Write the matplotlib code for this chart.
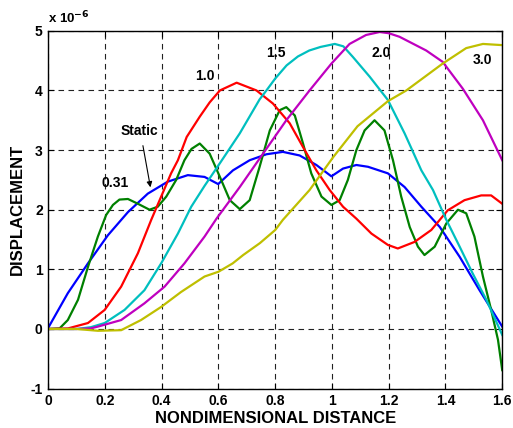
import matplotlib
matplotlib.use("Agg")
import matplotlib.pyplot as plt

plt.rcParams["font.family"] = ["Liberation Sans", "DejaVu Sans"]
plt.rcParams["font.weight"] = "bold"
plt.rcParams["axes.unicode_minus"] = False

# ── data (displacement in units of 1e-6) ─────────────────────────────────────

static_x = [0, 0.069, 0.14, 0.21, 0.281, 0.351, 0.421, 0.492, 0.551, 0.599,
            0.651, 0.71, 0.769, 0.827, 0.886, 0.945, 0.998, 1.039, 1.086, 1.127,
            1.197, 1.256, 1.315, 1.38, 1.45, 1.52, 1.6]
static_y = [0.02, 0.6, 1.1, 1.57, 1.96, 2.27, 2.47, 2.58, 2.55, 2.43,
            2.66, 2.83, 2.93, 2.97, 2.91, 2.75, 2.56, 2.69, 2.75, 2.72,
            2.61, 2.38, 2.05, 1.71, 1.21, 0.65, 0.04]

f031_x = [0, 0.04, 0.069, 0.105, 0.14, 0.175, 0.204, 0.228, 0.251, 0.281, 0.316,
          0.357, 0.386, 0.416, 0.451, 0.48, 0.505, 0.534, 0.569, 0.605, 0.64,
          0.675, 0.71, 0.745, 0.781, 0.816, 0.839, 0.869, 0.898, 0.927, 0.963,
          0.998, 1.027, 1.056, 1.086, 1.115, 1.15, 1.185, 1.215, 1.244, 1.274,
          1.303, 1.326, 1.362, 1.403, 1.444, 1.473, 1.502, 1.532, 1.561, 1.585, 1.6]
f031_y = [0, 0.01, 0.15, 0.49, 1.04, 1.55, 1.91, 2.08, 2.17, 2.18, 2.1,
          2.0, 2.05, 2.22, 2.5, 2.83, 3.02, 3.11, 2.94, 2.55, 2.16,
          2.01, 2.16, 2.72, 3.33, 3.67, 3.72, 3.58, 3.11, 2.61, 2.22,
          2.08, 2.16, 2.5, 3.0, 3.33, 3.5, 3.33, 2.83, 2.22, 1.71,
          1.38, 1.24, 1.38, 1.77, 2.0, 1.94, 1.55, 0.88, 0.32, -0.18, -0.69]

f10_x = [0, 0.07, 0.14, 0.199, 0.257, 0.316, 0.363, 0.398, 0.433, 0.457, 0.488,
         0.534, 0.569, 0.605, 0.664, 0.734, 0.792, 0.851, 0.898, 0.945, 0.992,
         1.039, 1.086, 1.139, 1.197, 1.232, 1.291, 1.35, 1.408, 1.467, 1.526,
         1.561, 1.6]
f10_y = [0, 0.01, 0.1, 0.32, 0.71, 1.27, 1.83, 2.22, 2.61, 2.83, 3.22,
         3.56, 3.8, 4.0, 4.13, 4.0, 3.78, 3.45, 3.05, 2.66, 2.33,
         2.05, 1.85, 1.6, 1.41, 1.35, 1.46, 1.66, 1.99, 2.16, 2.24,
         2.24, 2.1]

f15_x = [0, 0.1, 0.15, 0.199, 0.269, 0.339, 0.398, 0.457, 0.504, 0.551, 0.605,
         0.675, 0.745, 0.769, 0.8, 0.84, 0.88, 0.92, 0.96, 1.01, 1.04, 1.074,
         1.133, 1.197, 1.256, 1.315, 1.356, 1.403, 1.45, 1.496, 1.544, 1.6]
f15_y = [0, 0, 0.03, 0.1, 0.32, 0.65, 1.1, 1.6, 2.05, 2.4, 2.78,
         3.28, 3.85, 4.0, 4.2, 4.42, 4.57, 4.67, 4.73, 4.78, 4.74, 4.56,
         4.23, 3.84, 3.28, 2.66, 2.33, 1.83, 1.38, 0.93, 0.49, -0.1]

f20_x = [0, 0.1, 0.15, 0.175, 0.257, 0.339, 0.41, 0.48, 0.551, 0.593, 0.675,
         0.757, 0.839, 0.921, 0.998, 1.062, 1.12, 1.168, 1.2, 1.238, 1.332,
         1.39, 1.461, 1.532, 1.6]
f20_y = [0, 0, 0.01, 0.04, 0.15, 0.43, 0.71, 1.1, 1.55, 1.85, 2.38,
         2.94, 3.5, 4.0, 4.45, 4.78, 4.93, 4.98, 4.96, 4.9, 4.67,
         4.48, 4.03, 3.5, 2.83]

f30_x = [0, 0.1, 0.175, 0.257, 0.327, 0.398, 0.468, 0.551, 0.6, 0.65, 0.687,
         0.746, 0.8, 0.827, 0.921, 1.004, 1.09, 1.197, 1.262, 1.39, 1.473,
         1.532, 1.6]
f30_y = [0, 0, -0.03, -0.02, 0.15, 0.37, 0.62, 0.88, 0.96, 1.1, 1.24,
         1.44, 1.66, 1.83, 2.33, 2.88, 3.4, 3.82, 4.0, 4.45, 4.71,
         4.78, 4.76]

x_ticks = [0, 0.2, 0.4, 0.6, 0.8, 1.0, 1.2, 1.4, 1.6]
x_tick_labels = ["0", "0.2", "0.4", "0.6", "0.8", "1", "1.2", "1.4", "1.6"]
y_ticks = [-1, 0, 1, 2, 3, 4, 5]

# ── figure ───────────────────────────────────────────────────────────────────

fig = plt.figure(figsize=(5.13, 4.28), dpi=100, facecolor="white")
ax = fig.add_axes([0.094, 0.092, 0.885, 0.836])

ax.plot(static_x, static_y, color="#0000FF", lw=1.6)
ax.plot(f031_x, f031_y, color="#008000", lw=1.6)
ax.plot(f10_x, f10_y, color="#FF0000", lw=1.6)
ax.plot(f15_x, f15_y, color="#00BFBF", lw=1.6)
ax.plot(f20_x, f20_y, color="#BF00BF", lw=1.6)
ax.plot(f30_x, f30_y, color="#BFBF00", lw=1.6)

ax.set_xlim(0, 1.6)
ax.set_ylim(-1, 5)
ax.set_xticks(x_ticks)
ax.set_xticklabels(x_tick_labels)
ax.set_yticks(y_ticks)
ax.tick_params(direction="in", length=4, width=0.8, labelsize=10,
               top=True, right=True, pad=4)
for lbl in ax.get_xticklabels() + ax.get_yticklabels():
    lbl.set_fontweight("bold")

ax.grid(True, color="#222222", lw=0.8, linestyle=(0, (5, 4)))
ax.set_axisbelow(True)
for sp in ax.spines.values():
    sp.set_linewidth(1.0)

ax.set_xlabel("NONDIMENSIONAL DISTANCE", fontsize=12, fontweight="bold", labelpad=2)
ax.set_ylabel("DISPLACEMENT", fontsize=12, fontweight="bold", labelpad=4)
ax.text(0.0, 1.012, r"x 10$^{\mathbf{-6}}$", transform=ax.transAxes,
        fontsize=9.5, fontweight="bold", ha="left", va="bottom")

# curve labels
lab_kw = dict(fontsize=10, fontweight="bold", ha="center", va="center")
ax.text(0.552, 4.24, "1.0", **lab_kw)
ax.text(0.804, 4.63, "1.5", **lab_kw)
ax.text(1.174, 4.63, "2.0", **lab_kw)
ax.text(1.532, 4.51, "3.0", **lab_kw)
ax.text(0.235, 2.45, "0.31", **lab_kw)
ax.text(0.321, 3.32, "Static", **lab_kw)
ax.annotate("", xy=(0.362, 2.33), xytext=(0.332, 3.12),
            arrowprops=dict(arrowstyle="-|>", color="black", lw=0.8,
                            mutation_scale=8))

fig.savefig("out.png", dpi=100, facecolor="white")
